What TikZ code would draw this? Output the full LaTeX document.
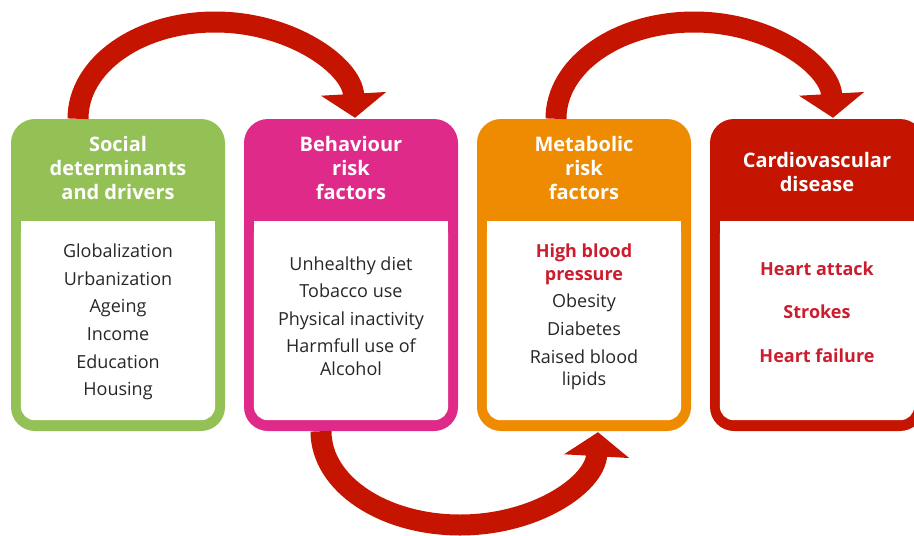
\documentclass[tikz,border=0pt]{standalone}
\usepackage{fontspec}
\setmainfont{Open Sans}
\usetikzlibrary{arrows.meta}
\definecolor{cgreen}{HTML}{93C155}
\definecolor{cmag}{HTML}{DF2A8A}
\definecolor{corange}{HTML}{EE8B00}
\definecolor{cred}{HTML}{C51400}
\definecolor{ctext}{HTML}{2A2626}
\definecolor{credtext}{HTML}{CC1D2E}
\newcommand\redb[1]{\textcolor{credtext}{\bfseries #1}}
\begin{document}
\begin{tikzpicture}[x=1pt,y=-1pt,
  outerbox/.style={rounded corners=24pt, minimum width=214pt, minimum height=312pt, inner sep=0pt, draw=none},
  titletext/.style={text=white, font=\bfseries\fontsize{20}{24}\selectfont, align=center},
  bodytext/.style={text=ctext, font=\fontsize{18}{27.6}\selectfont, align=center},
  bigarrow/.style={draw=cred, line width=21pt, -{Triangle[width=64pt,length=24pt]}},
]
\useasboundingbox (0,0) rectangle (914,536);
\clip (0,0) rectangle (914,536);

% boxes
\node[outerbox, fill=cgreen]  (b1) at (118,275) {};
\node[outerbox, fill=cmag]    (b2) at (351,275) {};
\node[outerbox, fill=corange] (b3) at (584,275) {};
\node[outerbox, fill=cred]    (b4) at (817,275) {};

% white panels
\foreach \b in {b1,b2,b3,b4}{
  \fill[white, rounded corners=14pt] ([xshift=10pt]\b.west |- 0,221) rectangle ([shift={(-10pt,11pt)}]\b.south east);
  \fill[white] ([xshift=10pt]\b.west |- 0,221) rectangle ([xshift=-10pt]\b.east |- 0,260);
}

% titles
\node[titletext] (t1) at (118,168) {Social\\determinants\\and drivers};
\node[titletext] (t2) at (351,168) {Behaviour\\risk\\factors};
\node[titletext] (t3) at (584,168) {Metabolic\\risk\\factors};
\node[titletext] (t4) at (817,172) {Cardiovascular\\disease};

% bodies
\node[bodytext] (l1) at (118,322) {Globalization\\Urbanization\\Ageing\\Income\\Education\\Housing};
\node[bodytext] (l2) at (351,316) {Unhealthy diet\\Tobacco use\\Physical inactivity\\Harmfull use of\\[-5pt]Alcohol};
\node[bodytext] (l3) at (584,317) {\redb{High blood}\\[-5pt]\redb{pressure}\\Obesity\\Diabetes\\Raised blood\\[-5pt]lipids};
\node[bodytext, text=credtext, font=\bfseries\fontsize{18}{43.5}\selectfont] (l4) at (817,312) {Heart attack\\Strokes\\Heart failure};

% arrows
\coordinate (s1) at ([xshift=-40pt]b1.north);
\coordinate (p1) at (215,22);
\coordinate (e1) at ([xshift=4pt,yshift=1pt]b2.north);
\draw[bigarrow] (s1) .. controls +(0,-54) and +(-76,0) .. (p1) .. controls +(76,0) and +(-3,-52) .. (e1);

\coordinate (s2) at ([xshift=-28pt]b3.north);
\coordinate (p2) at (694,22);
\coordinate (e2) at ([xshift=16pt,yshift=1pt]b4.north);
\draw[bigarrow] (s2) .. controls +(0,-54) and +(-76,0) .. (p2) .. controls +(76,0) and +(-3,-52) .. (e2);

\coordinate (s3) at ([xshift=-30pt]b2.south);
\coordinate (p3) at (460,525);
\coordinate (e3) at ([xshift=14pt,yshift=-1pt]b3.south);
\draw[bigarrow] (s3) .. controls +(0,53) and +(-76,0) .. (p3) .. controls +(76,0) and +(-3,52) .. (e3);
\end{tikzpicture}
\end{document}
